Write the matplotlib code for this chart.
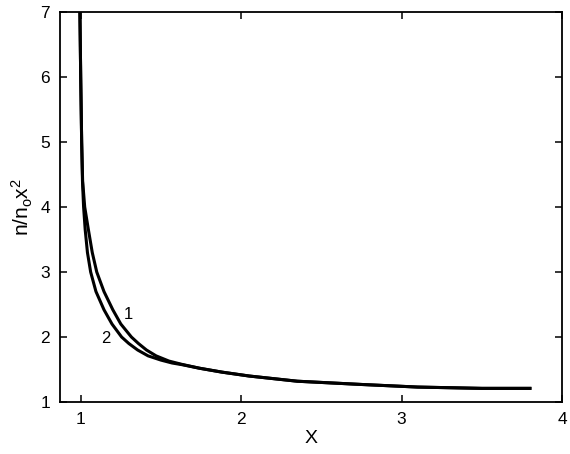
import matplotlib
matplotlib.use('Agg')
import matplotlib.pyplot as plt

# values
x1 = [0.995, 1.0, 1.006, 1.012, 1.025, 1.048, 1.072, 1.10, 1.145, 1.20, 1.25, 1.316, 1.36,
      1.41, 1.47, 1.55, 1.63, 1.74, 1.88, 2.05, 2.35, 2.75, 3.1, 3.5, 3.8]
y1 = [7.0, 6.0, 5.0, 4.4, 4.0, 3.65, 3.3, 3.0, 2.7, 2.42, 2.2, 2.0, 1.9,
      1.8, 1.71, 1.63, 1.58, 1.52, 1.46, 1.40, 1.32, 1.27, 1.23, 1.21, 1.21]
x2 = [0.995, 1.0, 1.006, 1.011, 1.018, 1.028, 1.042, 1.062, 1.095, 1.145, 1.195, 1.255, 1.30,
      1.355, 1.42, 1.50, 1.57, 1.63, 1.74, 1.88, 2.05, 2.35, 2.75, 3.1, 3.5, 3.8]
y2 = [7.0, 6.0, 5.0, 4.4, 4.0, 3.65, 3.3, 3.0, 2.7, 2.42, 2.2, 2.0, 1.9,
      1.8, 1.71, 1.645, 1.60, 1.575, 1.52, 1.46, 1.40, 1.32, 1.27, 1.23, 1.21, 1.21]
curve_labels = ['1', '2']
label_pos = [(1.30, 2.34), (1.155, 1.97)]
x_ticks = [1, 2, 3, 4]
y_ticks = [1, 2, 3, 4, 5, 6, 7]

plt.rcParams['font.family'] = ['Liberation Sans', 'DejaVu Sans']
plt.rcParams['mathtext.fontset'] = 'custom'
plt.rcParams['mathtext.rm'] = 'Liberation Sans'

fig = plt.figure(figsize=(5.7, 4.54), dpi=100)
ax = fig.add_axes([0.105, 0.1145, 0.881, 0.859])

ax.plot(x1, y1, color='black', lw=2.2, solid_joinstyle='round')
ax.plot(x2, y2, color='black', lw=2.2, solid_joinstyle='round')
for lab, (lx, ly) in zip(curve_labels, label_pos):
    ax.text(lx, ly, lab, fontsize=12, ha='center', va='center')

ax.set_xlim(0.87, 4.0)
ax.set_ylim(1, 7)
ax.set_xticks(x_ticks)
ax.set_yticks(y_ticks)
ax.tick_params(direction='in', top=True, right=True, length=5, width=1.1,
               labelsize=12.5, pad=7)
for s in ax.spines.values():
    s.set_linewidth(1.3)

ax.set_xlabel('X', fontsize=14, labelpad=2)
ax.set_ylabel(r'$\mathregular{n/n_o x^2}$', fontsize=15, labelpad=4)

fig.savefig('out.png', dpi=100)
